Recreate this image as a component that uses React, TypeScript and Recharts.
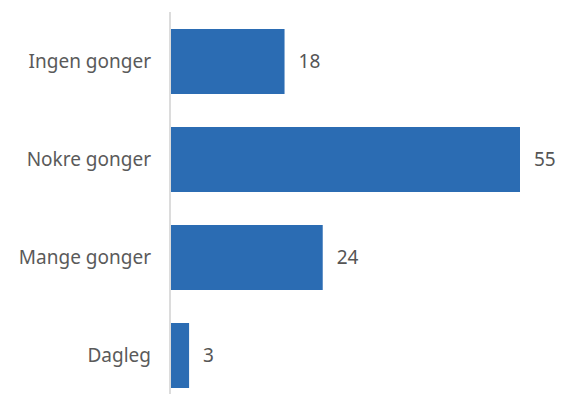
import { Bar, BarChart, LabelList, XAxis, YAxis } from 'recharts';

const KATEGORIAR = ['Ingen gonger', 'Nokre gonger', 'Mange gonger', 'Dagleg'];
const VERDIAR = [18, 55, 24, 3];

const data = KATEGORIAR.map((kategori, i) => ({ kategori, verdi: VERDIAR[i] }));

const FONT = '"Noto Sans", sans-serif';

export default function App() {
  return (
    <BarChart
      width={559}
      height={412}
      data={data}
      layout="vertical"
      margin={{ top: 4, right: 47, bottom: 16, left: 0 }}
      barSize={65}
    >
      <XAxis type="number" domain={[0, 55]} hide />
      <YAxis
        type="category"
        dataKey="kategori"
        width={162}
        tickLine={false}
        tickSize={0}
        tickMargin={19}
        axisLine={{ stroke: '#dcdcdc', strokeWidth: 2 }}
        tick={{ fill: '#5a5a5a', fontSize: 19, fontFamily: FONT }}
      />
      <Bar dataKey="verdi" fill="#2b6cb3" isAnimationActive={false}>
        <LabelList
          dataKey="verdi"
          position="right"
          offset={14}
          fill="#555555"
          fontSize={19}
          fontFamily={FONT}
        />
      </Bar>
    </BarChart>
  );
}
